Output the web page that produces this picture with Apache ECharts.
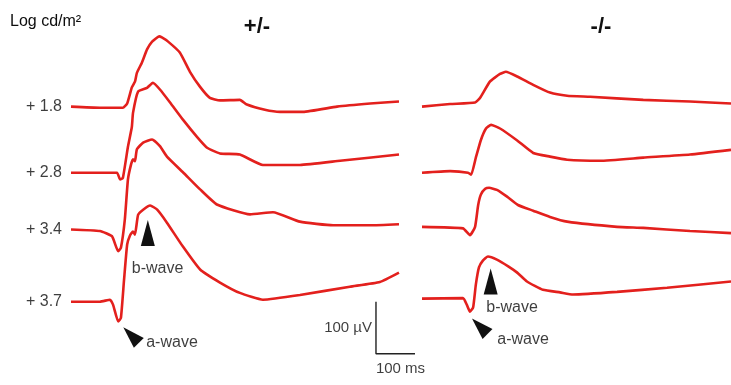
<!DOCTYPE html>
<html>
<head>
<meta charset="UTF-8">
<title>ERG</title>
<script type="text/javascript" src="https://cdn.jsdelivr.net/npm/echarts@6/dist/echarts.min.js"></script>
<style>
  html,body{margin:0;padding:0;background:#fff}
</style>
</head>
<body>
<div id="main" style="width:731px;height:385px"></div>
<script type="text/javascript">
// flash intensities, log cd/m2
var intensities = ['+ 1.8', '+ 2.8', '+ 3.4', '+ 3.7'];
var genotypes = ['+/-', '-/-'];

// sweeps: [ms from sweep start, µV from own baseline]
var het18 = [[0,0],[74,-2],[133,-2],[144,6],[156,37],[164,48],[169,65],[182,85],[195,110],[208,125],[226,135],[233,133],[249,125],[279,104],[305,67],[331,38],[356,17],[382,12],[433,13],[451,4],[497,-6],[536,-10],[595,-10],[682,0],[767,6],[841,10]];
var het28 = [[0,0],[74,0],[118,0],[126,-13],[133,-10],[146,50],[156,88],[159,115],[172,156],[195,163],[210,173],[228,160],[254,135],[287,102],[323,69],[349,48],[382,37],[433,35],[492,15],[587,15],[690,23],[841,35]];
var het34 = [[0,0],[74,-3],[105,-13],[121,-42],[128,-35],[138,19],[146,96],[154,125],[159,135],[164,131],[169,154],[185,167],[208,173],[228,160],[246,140],[287,110],[331,77],[374,48],[459,29],[518,33],[587,15],[672,8],[767,8],[841,10]];
var het37 = [[0,0],[74,0],[100,4],[108,-6],[121,-38],[128,-31],[136,42],[144,110],[151,127],[159,135],[164,129],[172,167],[185,177],[203,185],[221,177],[246,152],[287,106],[331,62],[382,37],[433,17],[492,4],[587,13],[715,29],[792,38],[841,56]];

var ko18 = [[0,0],[72,5],[136,8],[149,17],[174,48],[200,63],[215,67],[244,58],[285,42],[328,27],[372,21],[431,19],[567,13],[687,10],[792,6]];
var ko28 = [[0,0],[72,3],[118,0],[126,-4],[138,29],[151,63],[164,85],[177,92],[200,85],[244,62],[285,38],[328,31],[372,25],[456,23],[567,29],[687,35],[792,44]];
var ko34 = [[0,0],[105,-3],[123,-16],[136,0],[144,42],[151,62],[162,73],[172,75],[192,71],[218,58],[246,42],[285,31],[328,19],[372,10],[500,0],[567,-2],[687,-8],[792,-12]];
var ko37 = [[0,0],[105,1],[115,-12],[123,-25],[131,-17],[138,27],[146,60],[156,73],[169,81],[192,75],[221,62],[244,50],[269,33],[310,17],[354,12],[387,8],[500,13],[628,21],[792,33]];

// scale bar size
var scaleUV = 100, scaleMs = 100;

// layout: baseline of each sweep on the stacked µV axis
var hetShift = [0, -127, -236, -375];
var koShift = [0, -127, -231, -369];
// arrow heads and their captions [ms, µV, rotate / text]
var hetArrows = [[197, -243, 0], [154, -439, 45]];
var koArrows = [[176, -336, 0], [148, -422, 45]];
var hetWaveText = [[222, -312, 'b-wave'], [259, -454, 'a-wave']];
var koWaveText = [[231, -387, 'b-wave'], [259, -448, 'a-wave']];
var barAt = [782, -375];

var RED = '#e3201d';
var INK = '#0d0d0d';
var FONT = "'Liberation Sans', Arial, sans-serif";

var myChart = echarts.init(document.getElementById('main'), null, {renderer: 'canvas'});

function shifted(trace, off) {
  return trace.map(function (p) { return [p[0], p[1] + off]; });
}

var series = [];
[het18, het28, het34, het37].forEach(function (t, i) {
  series.push({type: 'line', xAxisIndex: 0, yAxisIndex: 0, data: shifted(t, hetShift[i]),
    symbol: 'none', smooth: 0.15, lineStyle: {color: RED, width: 2.6}});
});
[ko18, ko28, ko34, ko37].forEach(function (t, i) {
  series.push({type: 'line', xAxisIndex: 1, yAxisIndex: 1, data: shifted(t, koShift[i]),
    symbol: 'none', smooth: 0.15, lineStyle: {color: RED, width: 2.6}});
});

// intensity labels left of the first panel
series.push({
  type: 'scatter', xAxisIndex: 0, yAxisIndex: 0, symbolSize: 0,
  data: intensities.map(function (s, i) { return [0, hetShift[i], s]; }),
  label: {show: true, position: 'left', distance: 9, color: INK, fontSize: 16, fontFamily: FONT,
    formatter: function (p) { return p.value[2]; }}
});

function arrowSeries(arr, axis) {
  return {
    type: 'scatter', xAxisIndex: axis, yAxisIndex: axis, symbol: 'triangle',
    data: arr.map(function (a) {
      return {value: [a[0], a[1]], symbolRotate: a[2], symbolSize: a[2] ? [14, 22] : [14, 26]};
    }),
    itemStyle: {color: '#111', opacity: 1}
  };
}
function textSeries(arr, axis) {
  return {
    type: 'scatter', xAxisIndex: axis, yAxisIndex: axis, symbolSize: 0,
    data: arr,
    label: {show: true, position: 'inside', color: INK, fontSize: 16, fontFamily: FONT,
      formatter: function (p) { return p.value[2]; }}
  };
}
series.push(arrowSeries(hetArrows, 0), arrowSeries(koArrows, 1));
series.push(textSeries(hetWaveText, 0), textSeries(koWaveText, 1));

// scale bar
series.push({
  type: 'line', xAxisIndex: 0, yAxisIndex: 0, symbol: 'none',
  data: [[barAt[0], barAt[1]], [barAt[0], barAt[1] - scaleUV], [barAt[0] + scaleMs, barAt[1] - scaleUV]],
  lineStyle: {color: '#222', width: 1.4}
});
series.push({
  type: 'scatter', xAxisIndex: 0, yAxisIndex: 0, symbolSize: 0,
  data: [
    {value: [barAt[0], barAt[1] - scaleUV / 2], label: {position: 'left', distance: 4, formatter: scaleUV + ' µV'}},
    {value: [barAt[0] + scaleMs / 2, barAt[1] - scaleUV], label: {position: 'bottom', distance: 8, offset: [5, 0], formatter: scaleMs + ' ms'}}
  ],
  label: {show: true, color: INK, fontSize: 15, fontFamily: FONT}
});

var option = {
  animation: false,
  backgroundColor: '#fff',
  grid: [
    {left: 71, top: 0, width: 351, height: 385},
    {left: 422, top: 0, width: 309, height: 385}
  ],
  xAxis: [
    {gridIndex: 0, type: 'value', min: 0, max: 900, show: false},
    {gridIndex: 1, type: 'value', min: 0, max: 792, show: false}
  ],
  yAxis: [
    {gridIndex: 0, type: 'value', min: -535, max: 205, show: false},
    {gridIndex: 1, type: 'value', min: -535, max: 205, show: false}
  ],
  graphic: [
    {type: 'text', left: 10, top: 14, style: {text: 'Log cd/m²', font: '16px ' + FONT, fill: INK}},
    {type: 'text', x: 257, y: 27, style: {text: genotypes[0], font: 'bold 22px ' + FONT, fill: '#111', align: 'center', verticalAlign: 'middle'}},
    {type: 'text', x: 601, y: 27, style: {text: genotypes[1], font: 'bold 22px ' + FONT, fill: '#111', align: 'center', verticalAlign: 'middle'}}
  ],
  series: series
};
myChart.setOption(option);
</script>
</body>
</html>
